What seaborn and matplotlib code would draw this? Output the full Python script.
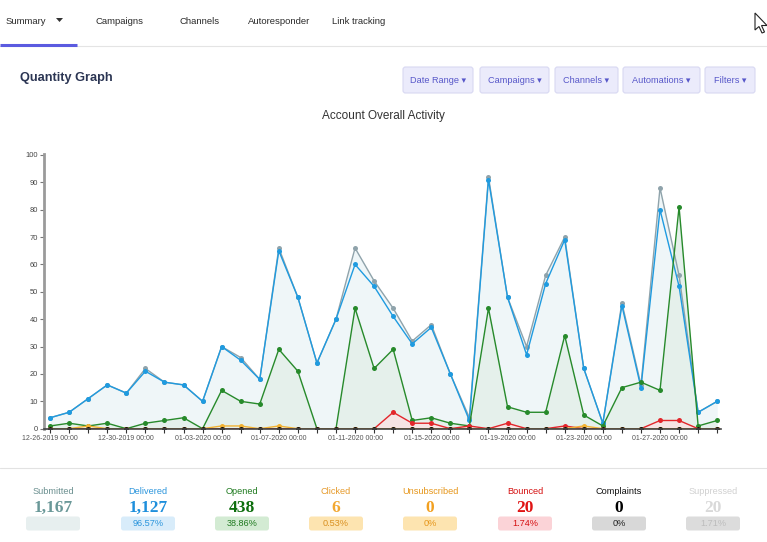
import matplotlib
matplotlib.use("Agg")
import matplotlib.pyplot as plt
import seaborn as sns
import pandas as pd
from matplotlib.patches import FancyBboxPatch, Polygon

# ---------------- data ----------------
days = list(range(36))
submitted = [4, 6, 11, 16, 13, 22, 17, 16, 10, 30, 26, 18, 66, 48, 24, 40, 66, 54,
             44, 32, 38, 20, 4, 92, 48, 30, 56, 70, 22, 2, 46, 16, 88, 56, 6, 10]
delivered = [4, 6, 11, 16, 13, 21, 17, 16, 10, 30, 25, 18, 65, 48, 24, 40, 60, 52,
             41, 31, 37, 20, 3, 91, 48, 27, 53, 69, 22, 2, 45, 15, 80, 52, 6, 10]
opened = [1, 2, 1, 2, 0, 2, 3, 4, 0, 14, 10, 9, 29, 21, 0, 0, 44, 22,
          29, 3, 4, 2, 1, 44, 8, 6, 6, 34, 5, 1, 15, 17, 14, 81, 1, 3]
clicked = [0, 0, 1, 0, 0, 0, 0, 0, 0, 1, 1, 0, 1, 0, 0, 0, 0, 0,
           0, 0, 0, 0, 0, 0, 0, 0, 0, 0, 1, 0, 0, 0, 0, 0, 0, 0]
unsubscribed = [0, 0, 0, 0, 0, 0, 0, 0, 0, 0, 0, 0, 0, 0, 0, 0, 0, 0,
                0, 0, 0, 0, 0, 0, 0, 0, 0, 0, 0, 0, 0, 0, 0, 0, 0, 0]
bounced = [0, 0, 0, 0, 0, 0, 0, 0, 0, 0, 0, 0, 0, 0, 0, 0, 0, 0,
           6, 2, 2, 0, 1, 0, 2, 0, 0, 1, 0, 0, 0, 0, 3, 3, 0, 0]
complaints = [0, 0, 0, 0, 0, 0, 0, 0, 0, 0, 0, 0, 0, 0, 0, 0, 0, 0,
              0, 0, 0, 0, 0, 0, 0, 0, 0, 0, 0, 0, 0, 0, 0, 0, 0, 0]

x_tick_days = [0, 4, 8, 12, 16, 20, 24, 28, 32]
x_tick_labels = ["12-26-2019 00:00", "12-30-2019 00:00", "01-03-2020 00:00",
                 "01-07-2020 00:00", "01-11-2020 00:00", "01-15-2020 00:00",
                 "01-19-2020 00:00", "01-23-2020 00:00", "01-27-2020 00:00"]
y_ticks = [0, 10, 20, 30, 40, 50, 60, 70, 80, 90, 100]

nav_items = ["Summary", "Campaigns", "Channels", "Autoresponder", "Link tracking"]
buttons = ["Date Range", "Campaigns", "Channels", "Automations", "Filters"]

stat_labels = ["Submitted", "Delivered", "Opened", "Clicked",
               "Unsubscribed", "Bounced", "Complaints", "Suppressed"]
stat_values = ["1,167", "1,127", "438", "6", "0", "20", "0", "20"]
stat_pcts = ["", "96.57%", "38.86%", "0.53%", "0%", "1.74%", "0%", "1.71%"]

# ---------------- styling ----------------
sns.set_style("white")
plt.rcParams['font.family'] = ['Liberation Sans', 'DejaVu Sans']

series_colors = {
    "Submitted": "#8fa3ab",
    "Delivered": "#1f9be0",
    "Opened": "#278a2b",
    "Bounced": "#e3262b",
    "Clicked": "#f2b233",
    "Unsubscribed": "#f2a020",
    "Complaints": "#111111",
}
series_data = {
    "Submitted": submitted,
    "Delivered": delivered,
    "Opened": opened,
    "Bounced": bounced,
    "Clicked": clicked,
    "Unsubscribed": unsubscribed,
    "Complaints": complaints,
}
rows = []
for name, vals in series_data.items():
    for d, v in zip(days, vals):
        rows.append({"day": d, "value": v, "series": name})
df = pd.DataFrame(rows)

fig = plt.figure(figsize=(7.67, 5.42), dpi=100)
fig.patch.set_facecolor("white")

bg = fig.add_axes([0, 0, 1, 1])
bg.set_xlim(0, 767)
bg.set_ylim(542, 0)
bg.axis("off")

# nav bar
nav_x = [6, 95, 179, 248, 332]
for x, t in zip(nav_x, nav_items):
    bg.text(x, 21, t, fontsize=6.8, color="#2a2a2a", va="center", ha="left")
bg.add_patch(Polygon([(56, 18), (63, 18), (59.5, 22)], closed=True, fc="#333333", ec="none"))
bg.plot([0, 767], [46, 46], color="#e4e4e4", lw=0.8)
bg.plot([0, 77], [44.5, 44.5], color="#5b5be0", lw=2.2, solid_capstyle="butt")

# cursor
bg.add_patch(Polygon([(755, 13), (755, 30), (759, 26.5), (762, 33), (764.5, 32), (761.5, 25.5), (767, 25.5)],
                     closed=True, fc="white", ec="#222222", lw=0.8))

# heading
bg.text(20, 78, "Quantity Graph", fontsize=9.2, fontweight="bold", color="#2b3553", va="center", ha="left")

# buttons
btn_geom = [(403, 70), (480, 69), (555, 63), (623, 77), (705, 50)]
for (x, w), t in zip(btn_geom, buttons):
    bg.add_patch(FancyBboxPatch((x, 67), w, 26, boxstyle="round,pad=0,rounding_size=2.5",
                                fc="#ebebfb", ec="#d8d8f2", lw=0.8))
    bg.text(x + w / 2, 80.5, t + " \u25BE", fontsize=6.6, color="#5757c9", va="center", ha="center",
            family=["Liberation Sans", "DejaVu Sans"])

# chart title
bg.text(383, 116, "Account Overall Activity", fontsize=8.5, color="#333333", va="center", ha="center")

# bottom separator
bg.plot([0, 767], [468, 468], color="#e2e2e2", lw=0.8)

# stats
stat_x = [53, 148, 242, 336, 430, 525, 619, 713]
label_colors = ["#6a8f8f", "#2b95dc", "#1f7a1f", "#e69a2a", "#e6961a", "#d51010", "#111111", "#d0d0d0"]
value_colors = ["#6a9898", "#1e8fdc", "#0d6e0d", "#f2a832", "#f2a020", "#e01414", "#000000", "#d9d9d9"]
pill_colors = ["#e7efef", "#d8ecfa", "#d3ebd3", "#fde4b0", "#fde4b0", "#fbd3d7", "#d8d8d8", "#dcdcdc"]
pct_colors = ["#6a9898", "#2b95dc", "#1f7a1f", "#d99020", "#e6961a", "#d51010", "#222222", "#bdbdbd"]
for x, lab, val, pct, lc, vc, pc, tc in zip(stat_x, stat_labels, stat_values, stat_pcts,
                                            label_colors, value_colors, pill_colors, pct_colors):
    bg.text(x, 491, lab, fontsize=6.6, color=lc, va="center", ha="center")
    bg.text(x, 508, val, fontsize=12.5, fontweight="bold", color=vc, va="center", ha="center",
            family="Liberation Serif")
    bg.add_patch(FancyBboxPatch((x - 27, 516.5), 54, 14, boxstyle="round,pad=0,rounding_size=2.5",
                                fc=pc, ec="none"))
    if pct:
        bg.text(x, 523.5, pct, fontsize=6.6, color=tc, va="center", ha="center")

# ---------------- chart ----------------
ax = fig.add_axes([44 / 767, (542 - 428.7) / 542, (721 - 44) / 767, (428.7 - 153.6) / 542])
ax.patch.set_alpha(0)

ax.fill_between(days, submitted, color="#eff6f8", zorder=0, lw=0)
ax.fill_between(days, opened, color="#e5f0eb", zorder=0.5, lw=0)
ax.fill_between(days, bounced, color="#f6e4e4", zorder=0.6, lw=0)

sns.lineplot(data=df, x="day", y="value", hue="series",
             hue_order=list(series_data.keys()), palette=series_colors,
             marker="o", markersize=3.6, markeredgewidth=0, linewidth=1.0,
             legend=False, ax=ax, zorder=2)

ax.set_xlim(-0.32, 35.2)
ax.set_ylim(0, 100.5)
ax.set_xticks(x_tick_days)
ax.set_xticklabels(x_tick_labels)
ax.set_xticks(days, minor=True)
ax.set_yticks(y_ticks)
ax.set_yticklabels([str(v) for v in y_ticks])
ax.set_xlabel("")
ax.set_ylabel("")
ax.tick_params(axis="x", which="both", length=3, width=0.8, color="#333333",
               labelsize=5, labelcolor="#555555", pad=1.5, bottom=True)
ax.tick_params(axis="y", length=3, width=0.8, color="#777777",
               labelsize=5.4, labelcolor="#444444", pad=1.5, left=True)
for s in ["top", "right"]:
    ax.spines[s].set_visible(False)
ax.spines["left"].set_color("#9a9a9a")
ax.spines["left"].set_linewidth(2)
ax.spines["bottom"].set_color("#444444")
ax.spines["bottom"].set_linewidth(1.2)

fig.savefig("out.png", dpi=100)
